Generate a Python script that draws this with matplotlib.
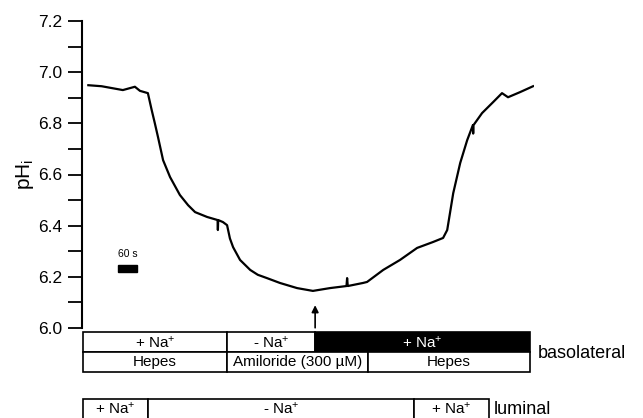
import matplotlib
matplotlib.use("Agg")
import matplotlib.pyplot as plt
from matplotlib.patches import Rectangle
import numpy as np

plt.rcParams['font.family'] = ['Liberation Sans', 'DejaVu Sans']
plt.rcParams['mathtext.fontset'] = 'custom'
plt.rcParams['mathtext.rm'] = 'Liberation Sans'
plt.rcParams['mathtext.default'] = 'regular'

# pH_i trace, time in seconds
time_s = [20, 62, 129, 167, 183, 208, 220, 230, 240, 256, 278, 309, 335, 357, 395, 428, 429, 430,
          445, 458, 467, 477, 499, 531, 555, 584, 625, 679, 729, 783, 835, 837, 839, 887, 900,
          951, 1004, 1058, 1108, 1140, 1153, 1172, 1194, 1216, 1234, 1235, 1236,
          1263, 1298, 1326, 1345, 1383, 1424]
ph_i = [6.949, 6.945, 6.930, 6.943, 6.927, 6.918, 6.852, 6.800, 6.746, 6.656, 6.590, 6.520,
        6.480, 6.453, 6.434, 6.422, 6.383, 6.422, 6.414, 6.402, 6.350, 6.316, 6.266, 6.227,
        6.208, 6.195, 6.176, 6.156, 6.145, 6.156, 6.164, 6.195, 6.164, 6.176, 6.180, 6.227,
        6.266, 6.313, 6.336, 6.352, 6.383, 6.527, 6.645, 6.734, 6.793, 6.760, 6.793, 6.840,
        6.883, 6.918, 6.902, 6.922, 6.945]

arrow_t = 736
scale_t0, scale_len = 114, 60

# solution bars: (start s, end s, label, filled)
baso_na = [(3, 458, "+ Na$^{+}$", False), (458, 736, "- Na$^{+}$", False),
           (736, 1415, "+ Na$^{+}$", True)]
baso_buf = [(3, 458, "Hepes"), (458, 903, "Amiloride (300 µM)"), (903, 1415, "Hepes")]
lum_na = [(3, 208, "+ Na$^{+}$"), (208, 1048, "- Na$^{+}$"), (1048, 1285, "+ Na$^{+}$")]

W, H = 643, 418
fig = plt.figure(figsize=(W / 100, H / 100), dpi=100)
ax = fig.add_axes([82 / W, (H - 328) / H, 452 / W, 307 / H])
ax.plot(time_s, ph_i, color='black', lw=1.6)
ax.set_xlim(0, 1427)
ax.set_ylim(6.0, 7.2)
for s in ['top', 'right', 'bottom']:
    ax.spines[s].set_visible(False)
ax.spines['left'].set_linewidth(1.5)
ax.set_xticks([])
ax.set_yticks(np.arange(6.0, 7.21, 0.2))
ax.set_yticklabels(["%.1f" % v for v in np.arange(6.0, 7.21, 0.2)])
ax.set_yticks(np.arange(6.1, 7.2, 0.2), minor=True)
ax.tick_params(axis='y', which='both', length=10, width=1.3, labelsize=12.5, pad=4)
ax.set_ylabel("pH$_{i}$", fontsize=15, labelpad=2)

# scale bar
ax.add_patch(Rectangle((scale_t0, 6.219), scale_len, 0.027, color='black'))
ax.text(scale_t0, 6.27, "60 s", fontsize=7.5, ha='left', va='bottom')

# arrow
ax.annotate("", xy=(arrow_t, 6.10), xytext=(arrow_t, 5.99),
            arrowprops=dict(arrowstyle='-|>', color='black', lw=1.2,
                            mutation_scale=10), annotation_clip=False)

# table below
tb = fig.add_axes([82 / W, 0, 452 / W, 88 / H], sharex=ax)
tb.set_ylim(418, 330)
tb.axis('off')
for t0, t1, lab, filled in baso_na:
    tb.add_patch(Rectangle((t0, 332), t1 - t0, 20, facecolor='black' if filled else 'white',
                           edgecolor='black', lw=1.2))
    tb.text((t0 + t1) / 2, 343, lab, ha='center', va='center', fontsize=11,
            color='white' if filled else 'black')
for t0, t1, lab in baso_buf:
    tb.add_patch(Rectangle((t0, 352), t1 - t0, 20, facecolor='white', edgecolor='black', lw=1.2))
    tb.text((t0 + t1) / 2, 362, lab, ha='center', va='center', fontsize=11)
tb.text(1440, 353, "basolateral", ha='left', va='center', fontsize=13)
for t0, t1, lab in lum_na:
    tb.add_patch(Rectangle((t0, 399), t1 - t0, 25, facecolor='white', edgecolor='black',
                           lw=1.2, clip_on=False))
    tb.text((t0 + t1) / 2, 409, lab, ha='center', va='center', fontsize=11)
tb.text(1300, 409, "luminal", ha='left', va='center', fontsize=13)

fig.savefig("out.png", dpi=100)
